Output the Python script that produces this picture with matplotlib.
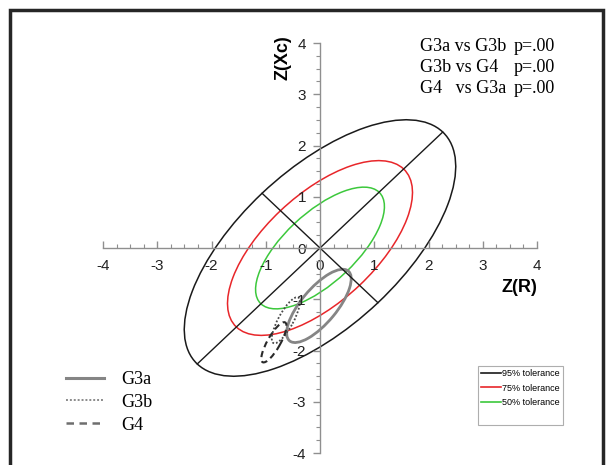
import matplotlib
matplotlib.use("Agg")
import numpy as np
import matplotlib.pyplot as plt
from matplotlib.patches import Ellipse, Rectangle
from matplotlib.lines import Line2D
from matplotlib.ticker import MultipleLocator

# tolerance ellipses (centred at 0, major axis at 45 deg), semi-axes in Z units
tol_labels = ["95% tolerance", "75% tolerance", "50% tolerance"]
tol_major = [3.20, 2.18, 1.54]
tol_minor = [1.51, 1.03, 0.67]
tol_colors = ["#1a1a1a", "#e8262a", "#3cc83c"]
tol_angle = 45

# group confidence ellipses
groups = ["G3a", "G3b", "G4"]
grp_cx = [-0.02, -0.63, -0.85]
grp_cy = [-1.13, -1.41, -1.84]
grp_major = [0.87, 0.50, 0.44]
grp_minor = [0.33, 0.14, 0.12]
grp_angle = [52, 63, 62]

stats_left = ["G3a vs G3b", "G3b vs G4", "G4   vs G3a"]
stats_right = ["p=.00", "p=.00", "p=.00"]

W, H = 611, 465
fig = plt.figure(figsize=(W / 100, H / 100), dpi=100)
ax = fig.add_axes([103 / W, 1 - 453 / H, 434 / W, 410 / H])
ax.set_xlim(-4, 4)
ax.set_ylim(-4, 4)

for a, b, c in zip(tol_major, tol_minor, tol_colors):
    ax.add_patch(Ellipse((0, 0), 2 * a, 2 * b, angle=tol_angle, fill=False,
                         ec=c, lw=1.1))

# axes of the 95% ellipse
th = np.deg2rad(tol_angle)
a, b = tol_major[0], tol_minor[0]
ax.plot([-a * np.cos(th), a * np.cos(th)], [-a * np.sin(th), a * np.sin(th)],
        color="#1a1a1a", lw=1)
ax.plot([b * np.sin(th), -b * np.sin(th)], [-b * np.cos(th), b * np.cos(th)],
        color="#1a1a1a", lw=1)

grp_styles = [dict(ec="#858585", lw=2.0, ls="-"),
              dict(ec="#4a4a4a", lw=1.3, ls=(0, (1, 1.1))),
              dict(ec="#2a2a2a", lw=1.5, ls=(0, (3, 2)))]
for i in range(len(groups)):
    ax.add_patch(Ellipse((grp_cx[i], grp_cy[i]), 2 * grp_major[i], 2 * grp_minor[i],
                         angle=grp_angle[i], fill=False, **grp_styles[i]))

# cross-shaped axes
for s in ["top", "right"]:
    ax.spines[s].set_visible(False)
ax.spines["left"].set_position(("data", 0))
ax.spines["bottom"].set_position(("data", 0))
for s in ["left", "bottom"]:
    ax.spines[s].set_color("#8f8f8f")
    ax.spines[s].set_linewidth(1)
ax.xaxis.set_major_locator(MultipleLocator(1))
ax.xaxis.set_minor_locator(MultipleLocator(0.25))
ax.yaxis.set_major_locator(MultipleLocator(1))
ax.yaxis.set_minor_locator(MultipleLocator(0.25))
ax.tick_params(axis="x", which="both", direction="in", color="#8f8f8f", pad=8)
ax.tick_params(axis="y", which="both", direction="out", color="#8f8f8f", pad=5)
ax.tick_params(which="major", length=5, width=1, labelsize=11,
               labelcolor="#222222")
ax.tick_params(which="minor", length=3, width=0.8)
ax.set_xticklabels([f"{int(v)}" for v in ax.get_xticks()], family="Liberation Sans")
ax.set_yticklabels([f"{int(v)}" for v in ax.get_yticks()], family="Liberation Sans")
ax.patch.set_visible(False)

ax.text(4, -0.78, "Z(R)", ha="right", va="center", fontsize=13,
        fontweight="bold", family="Liberation Sans")
ax.text(283 / W, 1 - 58 / H, "Z(Xc)", transform=fig.transFigure, rotation=90,
        ha="center", va="center", fontsize=13, fontweight="bold",
        family="Liberation Sans")

for i, (l, r) in enumerate(zip(stats_left, stats_right)):
    y = 1 - (51 + 21 * i) / H
    fig.text(420 / W, y, l, ha="left", va="baseline", fontsize=13,
             family="Liberation Serif")
    fig.text(555 / W, y, r, ha="right", va="baseline", fontsize=13,
             family="Liberation Serif")

# group legend
g_handles = [Line2D([], [], color="#858585", lw=2.2),
             Line2D([], [], color="#8a8a8a", lw=1.4, ls=(0, (1, 1))),
             Line2D([], [], color="#6e6e6e", lw=1.8, ls=(0, (3, 2.2)))]
leg1 = ax.legend(g_handles, groups, loc="upper left",
                 bbox_to_anchor=(57 / W, 1 - 362 / H), bbox_transform=fig.transFigure,
                 frameon=False, borderpad=0, handlelength=2.1, handletextpad=0.95,
                 labelspacing=0.32, prop={"family": "Liberation Serif", "size": 13})
ax.add_artist(leg1)

# tolerance legend
t_handles = [Line2D([], [], color=c, lw=1.2) for c in tol_colors]
t_handles.append(Line2D([], [], color="none"))
leg2 = ax.legend(t_handles, tol_labels + [" "], loc="upper left",
                 bbox_to_anchor=(473 / W, 1 - 361 / H), bbox_transform=fig.transFigure,
                 fancybox=False, edgecolor="#9a9a9a", borderpad=0.4,
                 handlelength=2.2, handletextpad=0.1, labelspacing=0.6,
                 prop={"family": "Liberation Sans", "size": 6.5})
leg2.get_frame().set_linewidth(0.8)

# outer frame (cut off at the bottom)
fig.patches.append(Rectangle((10 / W, -0.05), 593 / W, 1.05 - 10 / H,
                             transform=fig.transFigure, fill=False,
                             ec="#262626", lw=2.5))

fig.savefig("out.png", dpi=100)
